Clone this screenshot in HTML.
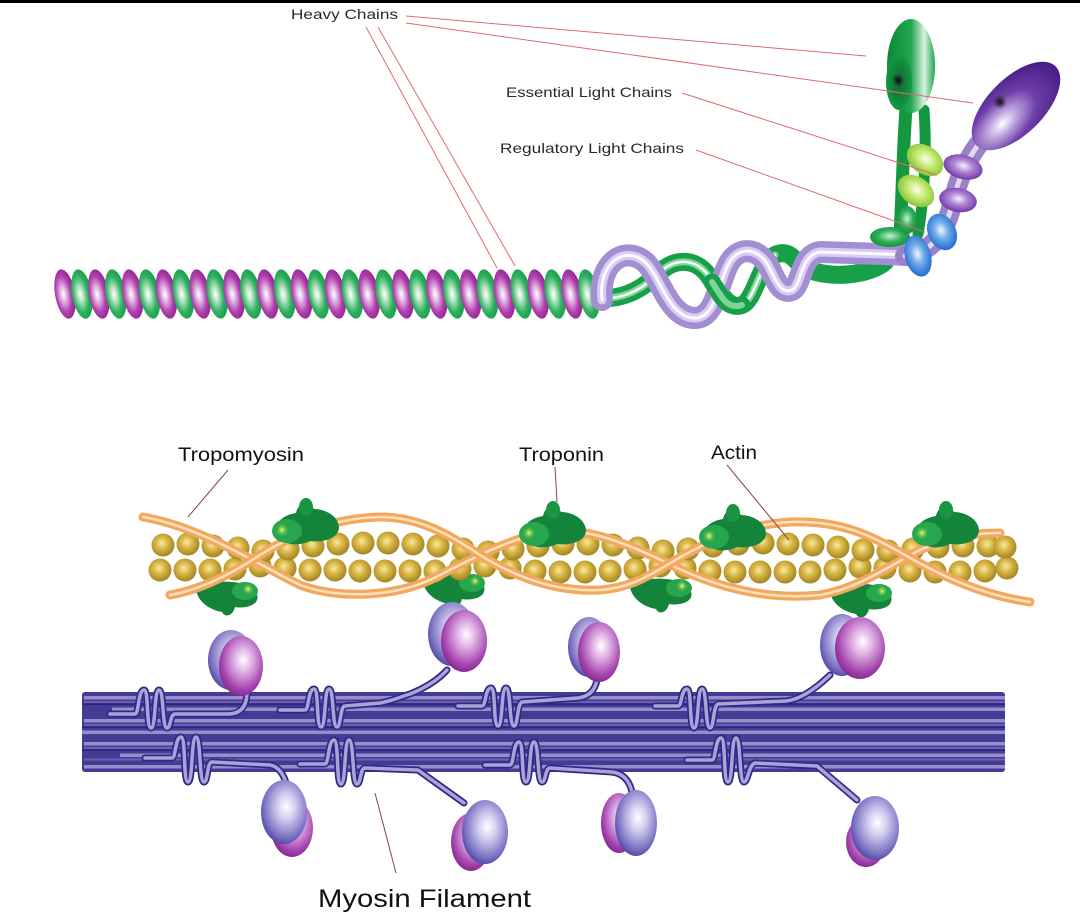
<!DOCTYPE html>
<html>
<head>
<meta charset="utf-8">
<style>
html,body{margin:0;padding:0;background:#fff;}
svg{display:block;}
text{font-family:"Liberation Sans",Arial,sans-serif;}
</style>
</head>
<body>
<svg width="1080" height="921" viewBox="0 0 1080 921" xmlns="http://www.w3.org/2000/svg">
<defs>
  <radialGradient id="cp" cx="0.42" cy="0.5" r="0.62">
    <stop offset="0" stop-color="#ffffff"/><stop offset="0.22" stop-color="#e6bce6"/><stop offset="0.6" stop-color="#b040ae"/><stop offset="1" stop-color="#8a1a88"/>
  </radialGradient>
  <radialGradient id="cg" cx="0.42" cy="0.5" r="0.62">
    <stop offset="0" stop-color="#ffffff"/><stop offset="0.22" stop-color="#b8e8c6"/><stop offset="0.6" stop-color="#30b060"/><stop offset="1" stop-color="#0c9a40"/>
  </radialGradient>
  <radialGradient id="bg" cx="0.45" cy="0.42" r="0.6">
    <stop offset="0" stop-color="#f8eaa0"/><stop offset="0.45" stop-color="#d8b444"/><stop offset="1" stop-color="#9c8220"/>
  </radialGradient>
  <radialGradient id="mg" cx="0.55" cy="0.4" r="0.65">
    <stop offset="0" stop-color="#ffffff"/><stop offset="0.3" stop-color="#e2b4e6"/><stop offset="0.75" stop-color="#a444ae"/><stop offset="1" stop-color="#7a2288"/>
  </radialGradient>
  <radialGradient id="lg" cx="0.55" cy="0.42" r="0.65">
    <stop offset="0" stop-color="#ffffff"/><stop offset="0.3" stop-color="#d2cdf0"/><stop offset="0.75" stop-color="#7870c0"/><stop offset="1" stop-color="#40359a"/>
  </radialGradient>
  <linearGradient id="gh" x1="0" y1="0" x2="1" y2="0">
    <stop offset="0" stop-color="#0a8a34"/><stop offset="0.5" stop-color="#22a650"/><stop offset="0.78" stop-color="#d8f2e0"/><stop offset="1" stop-color="#1ca64c"/>
  </linearGradient>
  <radialGradient id="ghi" cx="0.5" cy="0.5" r="0.55">
    <stop offset="0" stop-color="#222"/><stop offset="0.15" stop-color="#1c6a3a"/><stop offset="0.6" stop-color="#0e8a3a"/><stop offset="1" stop-color="#1a9c48"/>
  </radialGradient>
  <radialGradient id="ph" cx="0.3" cy="0.55" r="0.7">
    <stop offset="0" stop-color="#ffffff"/><stop offset="0.22" stop-color="#c0a8e0"/><stop offset="0.55" stop-color="#6e3ea8"/><stop offset="1" stop-color="#481c84"/>
  </radialGradient>
  <radialGradient id="dot" cx="0.5" cy="0.5" r="0.5">
    <stop offset="0" stop-color="#111"/><stop offset="1" stop-color="#111" stop-opacity="0"/>
  </radialGradient>
  <radialGradient id="lgr" cx="0.5" cy="0.45" r="0.6">
    <stop offset="0" stop-color="#f8ffe8"/><stop offset="0.45" stop-color="#c4e870"/><stop offset="1" stop-color="#78bc2c"/>
  </radialGradient>
  <radialGradient id="blu" cx="0.5" cy="0.45" r="0.6">
    <stop offset="0" stop-color="#f4f8ff"/><stop offset="0.4" stop-color="#70acea"/><stop offset="1" stop-color="#1662cc"/>
  </radialGradient>
  <radialGradient id="pr" cx="0.5" cy="0.45" r="0.6">
    <stop offset="0" stop-color="#f8f0ff"/><stop offset="0.4" stop-color="#b088d6"/><stop offset="1" stop-color="#6a2a9c"/>
  </radialGradient>
  <radialGradient id="gg" cx="0.5" cy="0.45" r="0.6">
    <stop offset="0" stop-color="#c8f0d0"/><stop offset="0.5" stop-color="#30b05a"/><stop offset="1" stop-color="#0e8a38"/>
  </radialGradient>
  <radialGradient id="spot" cx="0.5" cy="0.5" r="0.5">
    <stop offset="0" stop-color="#e8ff70"/><stop offset="1" stop-color="#48b040" stop-opacity="0"/>
  </radialGradient>

  <ellipse id="sp" cx="0" cy="294" rx="10" ry="25" transform="rotate(-10 0 294)" fill="url(#cp)"/>
  <ellipse id="sg" cx="0" cy="294" rx="10" ry="25" transform="rotate(-10 0 294)" fill="url(#cg)"/>
  <circle id="bd" cx="0" cy="0" r="11.5" fill="url(#bg)"/>

  <g id="tu">
    <path d="M8,38 C2,28 12,18 26,16 C28,6 38,2 44,12 C54,12 68,18 69,30 C69,40 56,46 40,44 C28,50 12,48 8,38 Z" fill="#14843a"/>
    <ellipse cx="36" cy="10" rx="7" ry="9" fill="#1a9642"/>
    <ellipse cx="17" cy="34" rx="15" ry="12" fill="#28a64e"/>
    <circle cx="12" cy="33" r="7" fill="url(#spot)"/>
  </g>
  <g id="tl">
    <path d="M3,10 C10,2 30,0 46,3 C60,5 68,14 63,22 C58,28 46,28 42,27 C40,36 32,38 29,32 C17,30 5,22 3,10 Z" fill="#14843a"/>
    <ellipse cx="52" cy="11" rx="13" ry="9" fill="#28a64e"/>
    <circle cx="55" cy="9" r="6" fill="url(#spot)"/>
  </g>
</defs>

<rect x="0" y="0" width="1080" height="921" fill="#fff"/>
<rect x="0" y="0" width="1080" height="3" fill="#000"/>

<!-- ===== TOP: myosin molecule ===== -->
<use href="#sp" x="65"/><use href="#sg" x="81.9"/><use href="#sp" x="98.8"/><use href="#sg" x="115.7"/>
<use href="#sp" x="132.6"/><use href="#sg" x="149.5"/><use href="#sp" x="166.4"/><use href="#sg" x="183.3"/>
<use href="#sp" x="200.2"/><use href="#sg" x="217.1"/><use href="#sp" x="234"/><use href="#sg" x="250.9"/>
<use href="#sp" x="267.8"/><use href="#sg" x="284.7"/><use href="#sp" x="301.6"/><use href="#sg" x="318.5"/>
<use href="#sp" x="335.4"/><use href="#sg" x="352.3"/><use href="#sp" x="369.2"/><use href="#sg" x="386.1"/>
<use href="#sp" x="403"/><use href="#sg" x="419.9"/><use href="#sp" x="436.8"/><use href="#sg" x="453.7"/>
<use href="#sp" x="470.6"/><use href="#sg" x="487.5"/><use href="#sp" x="504.4"/><use href="#sg" x="521.3"/>
<use href="#sp" x="538.2"/><use href="#sg" x="555.1"/><use href="#sp" x="572"/>

<!-- green tube -->
<g fill="none" stroke-linecap="round" stroke-linejoin="round">
  <path d="M596,298 C620,300 640,292 660,272 C675,258 695,258 708,275 C720,292 728,310 742,305 C755,300 760,262 775,255 C790,248 795,262 805,268 C830,280 870,275 885,262 L893,240" stroke="#17a047" stroke-width="18"/>
  <path d="M596,298 C620,300 640,292 660,272 C675,258 695,258 708,275 C720,292 728,310 742,305 C755,300 760,262 775,255" stroke="#80d49a" stroke-width="7"/>
  <path d="M600,298 C620,300 640,292 660,272 C675,258 695,258 708,275 C720,292 728,310 742,305 C755,300 760,262 775,255" stroke="#f4fff6" stroke-width="2.5"/>
</g>
<use href="#sg" x="588.9"/>
<!-- purple tube -->
<g fill="none" stroke-linecap="round" stroke-linejoin="round">
  <path d="M602,300 C598,262 625,245 645,262 C660,275 668,318 695,318 C715,318 718,285 728,265 C738,245 758,248 768,265 C775,278 780,295 792,290 C802,285 800,255 820,252 L912,255" stroke="#a48ed2" stroke-width="22"/>
  <path d="M602,300 C598,262 625,245 645,262 C660,275 668,318 695,318 C715,318 718,285 728,265 C738,245 758,248 768,265 C775,278 780,295 792,290 C802,285 800,255 820,252 L912,255" stroke="#d8ccf2" stroke-width="9"/>
  <path d="M602,300 C598,262 625,245 645,262 C660,275 668,318 695,318 C715,318 718,285 728,265 C738,245 758,248 768,265 C775,278 780,295 792,290 C802,285 800,255 820,252 L912,255" stroke="#fcfaff" stroke-width="3"/>
  <path d="M712,282 C722,298 728,310 742,305" stroke="#17a047" stroke-width="17"/>
  <path d="M712,282 C722,298 728,310 742,305" stroke="#80d49a" stroke-width="6"/>
</g>

<!-- green stem and head -->
<g fill="none" stroke-linecap="round">
  <path d="M900,236 C902,200 903,150 906,108" stroke="#14973f" stroke-width="13"/>
  <path d="M918,234 C924,200 927,150 924,110" stroke="#14973f" stroke-width="11"/>
</g>
<ellipse cx="890" cy="237" rx="20" ry="10" fill="url(#gg)"/>
<ellipse cx="907" cy="220" rx="10" ry="14" fill="url(#gg)"/>
<ellipse cx="911" cy="66" rx="24" ry="47" fill="url(#gh)"/>
<ellipse cx="899" cy="82" rx="13" ry="28" fill="url(#ghi)"/>
<ellipse cx="925" cy="160" rx="20" ry="14" transform="rotate(35 925 160)" fill="url(#lgr)"/>
<ellipse cx="916" cy="191" rx="20" ry="14" transform="rotate(35 916 191)" fill="url(#lgr)"/>

<!-- purple neck and head -->
<g fill="none" stroke-linecap="round">
  <path d="M905,256 C930,252 942,238 950,212 C956,190 960,170 978,145" stroke="#9a82c8" stroke-width="20"/>
  <path d="M905,256 C930,252 942,238 950,212 C956,190 960,170 978,145" stroke="#e2d8f4" stroke-width="5"/>
</g>
<ellipse cx="963" cy="167" rx="20" ry="12" transform="rotate(15 963 167)" fill="url(#pr)"/>
<ellipse cx="958" cy="200" rx="19" ry="12" transform="rotate(10 958 200)" fill="url(#pr)"/>
<ellipse cx="942" cy="232" rx="14" ry="19" transform="rotate(-25 942 232)" fill="url(#blu)"/>
<ellipse cx="918" cy="256" rx="13" ry="21" transform="rotate(-15 918 256)" fill="url(#blu)"/>
<ellipse cx="1016" cy="106" rx="56" ry="28" transform="rotate(-45 1016 106)" fill="url(#ph)"/>
<circle cx="1000" cy="102" r="7" fill="url(#dot)"/>
<circle cx="898" cy="80" r="6" fill="url(#dot)"/>

<!-- top leader lines -->
<g stroke="#e06a6a" stroke-width="1" fill="none">
  <line x1="406" y1="16" x2="866" y2="56"/>
  <line x1="406" y1="23" x2="973" y2="103"/>
  <line x1="366" y1="27" x2="497" y2="268"/>
  <line x1="378" y1="27" x2="515" y2="266"/>
  <line x1="682" y1="93" x2="937" y2="175"/>
  <line x1="696" y1="150" x2="925" y2="232"/>
</g>
<g fill="#2a2a2a" font-size="14">
  <text x="291" y="19" textLength="107" lengthAdjust="spacingAndGlyphs">Heavy  Chains</text>
  <text x="506" y="97" textLength="166" lengthAdjust="spacingAndGlyphs">Essential Light Chains</text>
  <text x="500" y="153" textLength="184" lengthAdjust="spacingAndGlyphs">Regulatory Light Chains</text>
</g>

<!-- ===== BOTTOM: thin filament ===== -->
<use href="#tl" x="193" y="580"/><use href="#tl" x="420" y="572"/><use href="#tl" x="627" y="577"/><use href="#tl" x="827" y="582"/>

<g>
  <use href="#bd" x="160" y="570"/><use href="#bd" x="185" y="570"/><use href="#bd" x="210" y="570"/><use href="#bd" x="235" y="569"/>
  <use href="#bd" x="260" y="566"/><use href="#bd" x="285" y="568"/><use href="#bd" x="310" y="570"/><use href="#bd" x="335" y="570"/>
  <use href="#bd" x="360" y="571"/><use href="#bd" x="385" y="571"/><use href="#bd" x="410" y="571"/><use href="#bd" x="435" y="571"/>
  <use href="#bd" x="460" y="569"/><use href="#bd" x="485" y="566"/><use href="#bd" x="510" y="568"/><use href="#bd" x="535" y="571"/>
  <use href="#bd" x="560" y="572"/><use href="#bd" x="585" y="572"/><use href="#bd" x="610" y="571"/><use href="#bd" x="635" y="569"/>
  <use href="#bd" x="660" y="566"/><use href="#bd" x="685" y="568"/><use href="#bd" x="710" y="571"/><use href="#bd" x="735" y="572"/>
  <use href="#bd" x="760" y="572"/><use href="#bd" x="785" y="572"/><use href="#bd" x="810" y="572"/><use href="#bd" x="835" y="570"/>
  <use href="#bd" x="860" y="567"/><use href="#bd" x="885" y="568"/><use href="#bd" x="910" y="571"/><use href="#bd" x="935" y="572"/>
  <use href="#bd" x="960" y="572"/><use href="#bd" x="985" y="571"/><use href="#bd" x="1007" y="568"/>

  <use href="#bd" x="163" y="545"/><use href="#bd" x="188" y="544"/><use href="#bd" x="213" y="546"/><use href="#bd" x="238" y="548"/>
  <use href="#bd" x="263" y="551"/><use href="#bd" x="288" y="549"/><use href="#bd" x="313" y="546"/><use href="#bd" x="338" y="544"/>
  <use href="#bd" x="363" y="543"/><use href="#bd" x="388" y="543"/><use href="#bd" x="413" y="544"/><use href="#bd" x="438" y="546"/>
  <use href="#bd" x="463" y="549"/><use href="#bd" x="488" y="552"/><use href="#bd" x="513" y="549"/><use href="#bd" x="538" y="546"/>
  <use href="#bd" x="563" y="544"/><use href="#bd" x="588" y="544"/><use href="#bd" x="613" y="545"/><use href="#bd" x="638" y="548"/>
  <use href="#bd" x="663" y="551"/><use href="#bd" x="688" y="549"/><use href="#bd" x="713" y="546"/><use href="#bd" x="738" y="544"/>
  <use href="#bd" x="763" y="543"/><use href="#bd" x="788" y="544"/><use href="#bd" x="813" y="545"/><use href="#bd" x="838" y="547"/>
  <use href="#bd" x="863" y="550"/><use href="#bd" x="888" y="551"/><use href="#bd" x="913" y="549"/><use href="#bd" x="938" y="547"/>
  <use href="#bd" x="963" y="546"/><use href="#bd" x="988" y="546"/><use href="#bd" x="1005" y="547"/>
</g>

<g fill="none" stroke-linecap="round">
  <path d="M143,517 C200,527 250,560 300,585 C340,600 400,597 440,575 C470,560 500,543 540,533 C580,525 620,540 667,563 C720,590 770,600 820,595 C860,588 890,565 920,550 C950,537 975,533 1000,533" stroke="#f2a85e" stroke-width="9"/>
  <path d="M143,517 C200,527 250,560 300,585 C340,600 400,597 440,575 C470,560 500,543 540,533 C580,525 620,540 667,563 C720,590 770,600 820,595 C860,588 890,565 920,550 C950,537 975,533 1000,533" stroke="#fde0bc" stroke-width="2.5"/>
  <path d="M170,595 C200,590 230,575 260,555 C300,530 340,518 380,517 C420,517 450,535 480,555 C520,580 560,592 600,590 C630,588 650,575 667,565 C700,545 740,525 790,522 C840,520 870,535 905,555 C940,575 980,595 1030,602" stroke="#f2a85e" stroke-width="9"/>
  <path d="M170,595 C200,590 230,575 260,555 C300,530 340,518 380,517 C420,517 450,535 480,555 C520,580 560,592 600,590 C630,588 650,575 667,565 C700,545 740,525 790,522 C840,520 870,535 905,555 C940,575 980,595 1030,602" stroke="#fde0bc" stroke-width="2.5"/>
</g>

<use href="#tu" x="270" y="497"/><use href="#tu" x="517" y="500"/><use href="#tu" x="697" y="503"/><use href="#tu" x="910" y="500"/>

<!-- ===== Myosin filament ===== -->
<rect x="82" y="692" width="923" height="80" rx="3" fill="#463b94"/>
<g fill="#958ecb">
  <rect x="84" y="696" width="921" height="3.5"/>
  <rect x="112" y="707.5" width="893" height="3.5"/>
  <rect x="84" y="719" width="921" height="3.5"/>
  <rect x="82" y="730.5" width="923" height="3.5"/>
  <rect x="84" y="742" width="921" height="3.5"/>
  <rect x="120" y="753.5" width="885" height="3.5"/>
  <rect x="84" y="765" width="921" height="3.5"/>
</g>
<g fill="#6a61b0">
  <rect x="84" y="701" width="921" height="2"/>
  <rect x="84" y="724" width="921" height="2"/>
  <rect x="84" y="747" width="921" height="2"/>
  <rect x="84" y="758.5" width="921" height="2"/>
</g>
<g fill="#2c2380">
  <rect x="82" y="703.5" width="923" height="1.5"/>
  <rect x="82" y="726.5" width="923" height="1.5"/>
  <rect x="82" y="749.5" width="923" height="1.5"/>
</g>

<g fill="none" stroke-linecap="round" stroke-linejoin="round">
  <g stroke="#32288a" stroke-width="7">
    <path d="M110,714 L135,714 C139,714 138,690 144,690 C149,690 146,728 151,728 C156,728 154,690 159,690 C164,690 162,728 167,728 C171,728 170,714 175,714 L228,714 Q246,714 247,694"/>
    <path d="M280,710 L305,710 C309,710 308,689 314,689 C319,689 316,727 321,727 C326,727 324,689 329,689 C334,689 332,727 337,727 C341,727 340,706 345,706 L380,703 C395,700 400,697 410,694 C425,688 438,680 447,670"/>
    <path d="M458,706 L482,706 C486,706 485,688 491,688 C496,688 493,726 498,726 C503,726 501,688 506,688 C511,688 509,726 514,726 C518,726 517,704 522,702 L578,698 Q594,696 597,680"/>
    <path d="M655,706 L678,706 C682,706 681,689 687,689 C692,689 689,728 694,728 C699,728 697,689 702,689 C707,689 705,728 710,728 C714,728 713,706 718,704 L786,701 Q805,699 830,675"/>
    <path d="M145,758 L172,758 C176,758 175,737 181,737 C186,737 183,782 188,782 C193,782 191,737 196,737 C201,737 199,782 204,782 C208,782 207,762 212,762 L270,765 Q282,767 287,786"/>
    <path d="M300,764 L325,764 C329,764 328,740 334,740 C339,740 336,784 341,784 C346,784 344,740 349,740 C354,740 352,784 357,784 C361,784 360,768 365,768 L418,770 L464,803"/>
    <path d="M485,765 L510,765 C514,765 513,742 519,742 C524,742 521,782 526,782 C531,782 529,742 534,742 C539,742 537,782 542,782 C546,782 545,768 550,768 L612,772 Q628,774 632,792"/>
    <path d="M687,760 L712,760 C716,760 715,738 721,738 C726,738 723,782 728,782 C733,782 731,738 736,738 C741,738 739,782 744,782 C748,782 749,764 755,763 L817,766 L857,800"/>
  </g>
  <g stroke="#aaa3d6" stroke-width="3.5">
    <path d="M110,714 L135,714 C139,714 138,690 144,690 C149,690 146,728 151,728 C156,728 154,690 159,690 C164,690 162,728 167,728 C171,728 170,714 175,714 L228,714 Q246,714 247,694"/>
    <path d="M280,710 L305,710 C309,710 308,689 314,689 C319,689 316,727 321,727 C326,727 324,689 329,689 C334,689 332,727 337,727 C341,727 340,706 345,706 L380,703 C395,700 400,697 410,694 C425,688 438,680 447,670"/>
    <path d="M458,706 L482,706 C486,706 485,688 491,688 C496,688 493,726 498,726 C503,726 501,688 506,688 C511,688 509,726 514,726 C518,726 517,704 522,702 L578,698 Q594,696 597,680"/>
    <path d="M655,706 L678,706 C682,706 681,689 687,689 C692,689 689,728 694,728 C699,728 697,689 702,689 C707,689 705,728 710,728 C714,728 713,706 718,704 L786,701 Q805,699 830,675"/>
    <path d="M145,758 L172,758 C176,758 175,737 181,737 C186,737 183,782 188,782 C193,782 191,737 196,737 C201,737 199,782 204,782 C208,782 207,762 212,762 L270,765 Q282,767 287,786"/>
    <path d="M300,764 L325,764 C329,764 328,740 334,740 C339,740 336,784 341,784 C346,784 344,740 349,740 C354,740 352,784 357,784 C361,784 360,768 365,768 L418,770 L464,803"/>
    <path d="M485,765 L510,765 C514,765 513,742 519,742 C524,742 521,782 526,782 C531,782 529,742 534,742 C539,742 537,782 542,782 C546,782 545,768 550,768 L612,772 Q628,774 632,792"/>
    <path d="M687,760 L712,760 C716,760 715,738 721,738 C726,738 723,782 728,782 C733,782 731,738 736,738 C741,738 739,782 744,782 C748,782 749,764 755,763 L817,766 L857,800"/>
  </g>
</g>

<ellipse cx="231" cy="660" rx="23" ry="30" fill="url(#lg)"/>
<ellipse cx="241" cy="666" rx="22" ry="30" fill="url(#mg)"/>
<ellipse cx="452" cy="634" rx="24" ry="32" fill="url(#lg)"/>
<ellipse cx="464" cy="641" rx="23" ry="31" fill="url(#mg)"/>
<ellipse cx="589" cy="647" rx="21" ry="30" fill="url(#lg)"/>
<ellipse cx="599" cy="652" rx="21" ry="30" fill="url(#mg)"/>
<ellipse cx="842" cy="645" rx="22" ry="31" fill="url(#lg)"/>
<ellipse cx="860" cy="648" rx="25" ry="31" fill="url(#mg)"/>
<ellipse cx="292" cy="828" rx="21" ry="29" fill="url(#mg)"/>
<ellipse cx="284" cy="812" rx="23" ry="32" fill="url(#lg)"/>
<ellipse cx="471" cy="842" rx="20" ry="29" fill="url(#mg)"/>
<ellipse cx="485" cy="832" rx="23" ry="32" fill="url(#lg)"/>
<ellipse cx="619" cy="823" rx="18" ry="30" fill="url(#mg)"/>
<ellipse cx="636" cy="823" rx="21" ry="33" fill="url(#lg)"/>
<ellipse cx="866" cy="842" rx="20" ry="25" fill="url(#mg)"/>
<ellipse cx="875" cy="828" rx="24" ry="32" fill="url(#lg)"/>

<g stroke="#8a4444" stroke-width="1" fill="none">
  <line x1="228" y1="470" x2="188" y2="517"/>
  <line x1="555" y1="467" x2="557" y2="502"/>
  <line x1="727" y1="465" x2="789" y2="540"/>
  <line x1="375" y1="793" x2="396" y2="873"/>
</g>
<g fill="#111">
  <text x="178" y="461" font-size="19" textLength="126" lengthAdjust="spacingAndGlyphs">Tropomyosin</text>
  <text x="519" y="461" font-size="19" textLength="85" lengthAdjust="spacingAndGlyphs">Troponin</text>
  <text x="711" y="459" font-size="19" textLength="46" lengthAdjust="spacingAndGlyphs">Actin</text>
  <text x="318" y="907" font-size="25" textLength="213" lengthAdjust="spacingAndGlyphs">Myosin Filament</text>
</g>
</svg>
</body>
</html>
